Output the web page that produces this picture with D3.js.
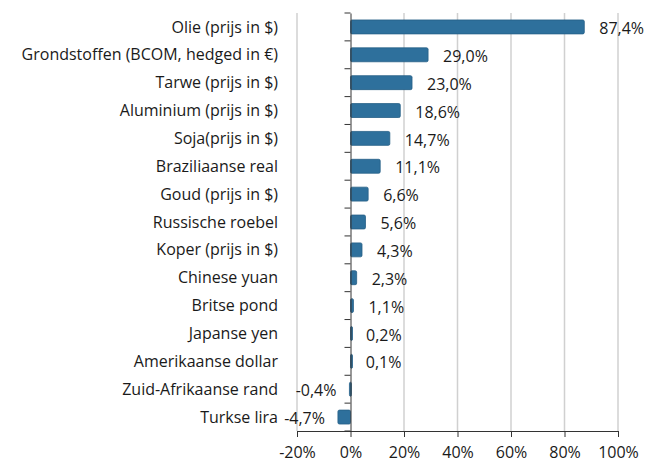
<!DOCTYPE html>
<html>
  <head>
    <meta charset="utf-8">
    <script src="https://cdn.jsdelivr.net/npm/d3@7"></script>
    <style>
      body { margin: 0; background: #fff; }
      text { font-family: "Open Sans", Lato, sans-serif; fill: #1a1a1a; }
    </style>
  </head>
  <body>
    <svg id="chart" width="661" height="463"></svg>
    <script>
      // data
      categories = [
        "Olie (prijs in $)",
        "Grondstoffen (BCOM, hedged in €)",
        "Tarwe (prijs in $)",
        "Aluminium (prijs in $)",
        "Soja(prijs in $)",
        "Braziliaanse real",
        "Goud (prijs in $)",
        "Russische roebel",
        "Koper (prijs in $)",
        "Chinese yuan",
        "Britse pond",
        "Japanse yen",
        "Amerikaanse dollar",
        "Zuid-Afrikaanse rand",
        "Turkse lira"
      ];
      values = [87.4, 29.0, 23.0, 18.6, 14.7, 11.1, 6.6, 5.6, 4.3, 2.3, 1.1, 0.2, 0.1, -0.4, -4.7];
      ticks = [-20, 0, 20, 40, 60, 80, 100];

      svg = d3.select("#chart");
      margin = { top: 13, left: 297, right: 43, bottom: 32 };
      width = 661 - margin.left - margin.right;
      height = 463 - margin.top - margin.bottom;
      fontSize = "16px";

      g = svg.append("g")
        .attr("transform", "translate(" + margin.left + "," + margin.top + ")");

      x = d3.scaleLinear().domain([-20, 100]).range([0, width]);
      y = d3.scaleBand().domain(categories).range([0, height]).paddingInner(0.5).paddingOuter(0.25);

      fmt = function(v) { return v.toFixed(1).replace(".", ",") + "%"; };

      // gridlines
      g.selectAll(".grid")
        .data(ticks.filter(function(d) { return d != 0; }))
        .enter().append("line")
          .attr("x1", function(d) { return x(d); })
          .attr("x2", function(d) { return x(d); })
          .attr("y1", 0)
          .attr("y2", height)
          .attr("stroke", "#d0d0d0")
          .attr("stroke-width", 1.5);

      // bars
      g.selectAll(".bar")
        .data(values)
        .enter().append("rect")
          .attr("x", function(d) { return x(Math.min(0, d)); })
          .attr("y", function(d, i) { return y(categories[i]); })
          .attr("width", function(d) { return Math.max(2, Math.abs(x(d) - x(0))); })
          .attr("height", y.bandwidth())
          .attr("rx", 1.5)
          .attr("fill", "#2e709c")
          .attr("stroke", "#265f86")
          .attr("stroke-width", 0.8);

      // value labels
      g.selectAll(".val")
        .data(values)
        .enter().append("text")
          .attr("x", function(d) { return d >= 0 ? x(d) + 15 : x(d) - 13; })
          .attr("y", function(d, i) { return y(categories[i]) + y.bandwidth() / 2 + 1.5; })
          .attr("dy", "0.35em")
          .attr("text-anchor", function(d) { return d >= 0 ? "start" : "end"; })
          .style("font-size", fontSize)
          .text(fmt);

      // x axis
      xAxis = g.append("g")
        .attr("transform", "translate(0," + height + ")")
        .call(d3.axisBottom(x).tickValues(ticks).tickSize(6).tickPadding(10)
          .tickFormat(function(d) { return d + "%"; }));
      xAxis.select(".domain").attr("stroke", "#333");
      xAxis.selectAll(".tick line").attr("stroke", "#333");
      xAxis.selectAll("text").style("font-size", fontSize).attr("fill", "#1a1a1a");

      // y axis at zero
      yAxis = g.append("g")
        .attr("transform", "translate(" + x(0) + ",0)")
        .call(d3.axisLeft(y).tickSize(6).tickSizeOuter(0).tickFormat(""));
      yAxis.select(".domain").attr("stroke", "#333");
      yAxis.selectAll(".tick line")
        .attr("stroke", "#333")
        .attr("transform", "translate(0," + (-y.step() / 2) + ")");
      yAxis.append("line").attr("x1", -6).attr("x2", 0).attr("y1", height).attr("y2", height).attr("stroke", "#333");

      // category labels
      g.selectAll(".cat")
        .data(categories)
        .enter().append("text")
          .attr("x", -19)
          .attr("y", function(d) { return y(d) + y.bandwidth() / 2; })
          .attr("dy", "0.35em")
          .attr("text-anchor", "end")
          .style("font-size", fontSize)
          .text(function(d) { return d; });
    </script>
  </body>
</html>
